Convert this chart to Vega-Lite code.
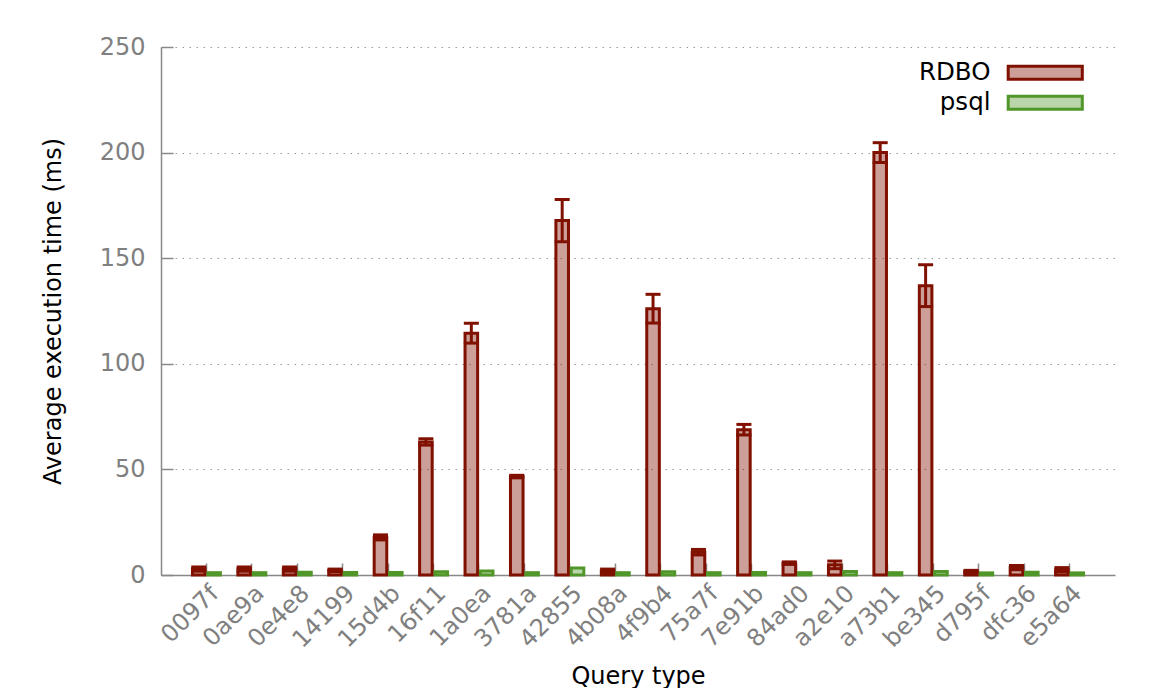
{
  "$schema": "https://vega.github.io/schema/vega-lite/v6.json",
  "width": 954,
  "height": 528,
  "autosize": {"type": "none"},
  "padding": {"left": 161, "top": 47, "right": 43, "bottom": 113},
  "background": "white",
  "config": {"view": {"stroke": null}, "font": "DejaVu Sans"},
  "data": {
    "values": [
      {"q": "0097f", "series": "RDBO", "v": 2.8, "lo": 1.8, "hi": 3.8},
      {"q": "0ae9a", "series": "RDBO", "v": 2.8, "lo": 1.8, "hi": 3.8},
      {"q": "0e4e8", "series": "RDBO", "v": 2.8, "lo": 1.8, "hi": 3.8},
      {"q": "14199", "series": "RDBO", "v": 2.2, "lo": 1.6, "hi": 2.8},
      {"q": "15d4b", "series": "RDBO", "v": 17.8, "lo": 16.6, "hi": 19.0},
      {"q": "16f11", "series": "RDBO", "v": 63.0, "lo": 61.5, "hi": 64.5},
      {"q": "1a0ea", "series": "RDBO", "v": 114.5, "lo": 109.8, "hi": 119.2},
      {"q": "3781a", "series": "RDBO", "v": 46.6, "lo": 46.0, "hi": 47.2},
      {"q": "42855", "series": "RDBO", "v": 167.8, "lo": 157.8, "hi": 177.8},
      {"q": "4b08a", "series": "RDBO", "v": 2.0, "lo": 1.2, "hi": 2.8},
      {"q": "4f9b4", "series": "RDBO", "v": 126.1, "lo": 119.3, "hi": 132.9},
      {"q": "75a7f", "series": "RDBO", "v": 10.8, "lo": 9.5, "hi": 12.1},
      {"q": "7e91b", "series": "RDBO", "v": 68.8, "lo": 66.3, "hi": 71.3},
      {"q": "84ad0", "series": "RDBO", "v": 5.6, "lo": 5.0, "hi": 6.2},
      {"q": "a2e10", "series": "RDBO", "v": 4.8, "lo": 3.0, "hi": 6.6},
      {"q": "a73b1", "series": "RDBO", "v": 200.0, "lo": 195.3, "hi": 204.7},
      {"q": "be345", "series": "RDBO", "v": 137.0, "lo": 127.1, "hi": 146.9},
      {"q": "d795f", "series": "RDBO", "v": 1.7, "lo": 1.2, "hi": 2.2},
      {"q": "dfc36", "series": "RDBO", "v": 3.5, "lo": 2.5, "hi": 4.5},
      {"q": "e5a64", "series": "RDBO", "v": 2.5, "lo": 1.5, "hi": 3.5},
      {"q": "0097f", "series": "psql", "v": 1.1, "lo": 1.0, "hi": 1.2},
      {"q": "0ae9a", "series": "psql", "v": 1.1, "lo": 1.0, "hi": 1.2},
      {"q": "0e4e8", "series": "psql", "v": 1.3, "lo": 1.2, "hi": 1.4},
      {"q": "14199", "series": "psql", "v": 1.2, "lo": 1.1, "hi": 1.3},
      {"q": "15d4b", "series": "psql", "v": 1.2, "lo": 1.1, "hi": 1.3},
      {"q": "16f11", "series": "psql", "v": 1.5, "lo": 1.4, "hi": 1.6},
      {"q": "1a0ea", "series": "psql", "v": 1.9, "lo": 1.8, "hi": 2.0},
      {"q": "3781a", "series": "psql", "v": 1.1, "lo": 1.0, "hi": 1.2},
      {"q": "42855", "series": "psql", "v": 3.3, "lo": 3.0, "hi": 3.6},
      {"q": "4b08a", "series": "psql", "v": 1.1, "lo": 1.0, "hi": 1.2},
      {"q": "4f9b4", "series": "psql", "v": 1.5, "lo": 1.4, "hi": 1.6},
      {"q": "75a7f", "series": "psql", "v": 1.1, "lo": 1.0, "hi": 1.2},
      {"q": "7e91b", "series": "psql", "v": 1.2, "lo": 1.1, "hi": 1.3},
      {"q": "84ad0", "series": "psql", "v": 1.1, "lo": 1.0, "hi": 1.2},
      {"q": "a2e10", "series": "psql", "v": 1.6, "lo": 1.5, "hi": 1.7},
      {"q": "a73b1", "series": "psql", "v": 1.1, "lo": 1.0, "hi": 1.2},
      {"q": "be345", "series": "psql", "v": 1.7, "lo": 1.6, "hi": 1.8},
      {"q": "d795f", "series": "psql", "v": 1.0, "lo": 0.9, "hi": 1.1},
      {"q": "dfc36", "series": "psql", "v": 1.3, "lo": 1.2, "hi": 1.4},
      {"q": "e5a64", "series": "psql", "v": 1.0, "lo": 0.9, "hi": 1.1}
    ]
  },
  "encoding": {
    "x": {
      "field": "q",
      "type": "nominal",
      "sort": null,
      "scale": {"paddingInner": 0, "paddingOuter": 0.5},
      "axis": {
        "title": "Query type",
        "labelAngle": -45,
        "labelAlign": "right",
        "labelBaseline": "top",
        "tickSize": -12,
        "tickColor": "#888888",
        "tickWidth": 1.5,
        "labelPadding": 18,
        "labelColor": "#808080",
        "labelFont": "DejaVu Sans",
        "labelFontSize": 24,
        "domainColor": "#888888",
        "domainWidth": 1.5,
        "grid": false,
        "titleFont": "DejaVu Sans",
        "titleFontSize": 24,
        "titleFontWeight": "normal",
        "titleColor": "black",
        "titleX": 477,
        "titleY": 108,
        "titleAlign": "center",
        "titleBaseline": "alphabetic"
      }
    },
    "xOffset": {
      "field": "series",
      "type": "nominal",
      "sort": ["RDBO", "psql"],
      "scale": {"paddingInner": 0.18, "paddingOuter": 0.57}
    }
  },
  "layer": [
    {
      "mark": {"type": "bar", "fillOpacity": 0.4, "strokeWidth": 3},
      "encoding": {
        "y": {
          "field": "v",
          "type": "quantitative",
          "scale": {"domain": [0, 250], "nice": false},
          "axis": {
            "values": [0, 50, 100, 150, 200, 250],
            "title": "Average execution time (ms)",
            "grid": true,
            "gridDash": [1.5, 5.5],
            "gridColor": "#999999",
            "gridWidth": 1.2,
            "domainColor": "#888888",
            "domainWidth": 1.5,
            "tickColor": "#888888",
            "tickWidth": 1.5,
            "tickSize": -12,
            "labelPadding": 28,
            "labelColor": "#808080",
            "labelFont": "DejaVu Sans",
            "labelFontSize": 24,
            "titleFont": "DejaVu Sans",
            "titleFontSize": 24,
            "titleFontWeight": "normal",
            "titleColor": "black",
            "titleX": -101,
            "titleY": 264,
            "titleAngle": -90,
            "titleAlign": "center",
            "titleBaseline": "alphabetic"
          }
        },
        "fill": {
          "field": "series",
          "type": "nominal",
          "sort": ["RDBO", "psql"],
          "scale": {"domain": ["RDBO", "psql"], "range": ["#801000", "#509628"]},
          "legend": {
            "title": null,
            "orient": "none",
            "legendX": 872,
            "legendY": 13.5,
            "padding": 0,
            "symbolType": "M-5.7,-1H5.7V1H-5.7Z",
            "symbolSize": 169,
            "symbolStrokeWidth": 3,
            "labelAlign": "right",
            "labelOffset": -67,
            "labelFont": "DejaVu Sans",
            "labelFontSize": 24.5,
            "labelColor": "black",
            "rowPadding": 4,
            "encode": {"symbols": {"update": {"fillOpacity": {"value": 0.4}}}}
          }
        },
        "stroke": {
          "field": "series",
          "type": "nominal",
          "sort": ["RDBO", "psql"],
          "scale": {"domain": ["RDBO", "psql"], "range": ["#801000", "#509628"]},
          "legend": {
            "title": null,
            "orient": "none",
            "legendX": 872,
            "legendY": 13.5,
            "padding": 0,
            "symbolType": "M-5.7,-1H5.7V1H-5.7Z",
            "symbolSize": 169,
            "symbolStrokeWidth": 3,
            "labelAlign": "right",
            "labelOffset": -67,
            "labelFont": "DejaVu Sans",
            "labelFontSize": 24.5,
            "labelColor": "black",
            "rowPadding": 4,
            "encode": {"symbols": {"update": {"fillOpacity": {"value": 0.4}}}}
          }
        }
      }
    },
    {
      "transform": [{"filter": "datum.series === 'RDBO'"}],
      "mark": {"type": "rule", "strokeWidth": 3, "color": "#801000"},
      "encoding": {
        "y": {"field": "lo", "type": "quantitative"},
        "y2": {"field": "hi"}
      }
    },
    {
      "transform": [{"filter": "datum.series === 'RDBO'"}],
      "mark": {"type": "tick", "size": 15, "thickness": 3, "color": "#801000", "opacity": 1},
      "encoding": {"y": {"field": "lo", "type": "quantitative"}}
    },
    {
      "transform": [{"filter": "datum.series === 'RDBO'"}],
      "mark": {"type": "tick", "size": 15, "thickness": 3, "color": "#801000", "opacity": 1},
      "encoding": {"y": {"field": "hi", "type": "quantitative"}}
    }
  ]
}
